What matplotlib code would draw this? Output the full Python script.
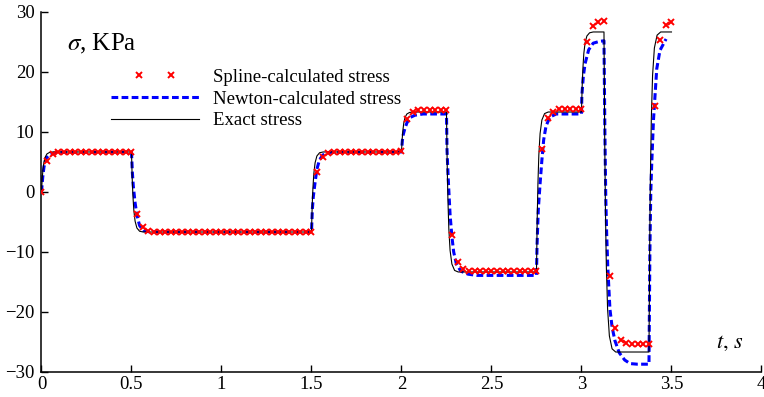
import numpy as np
import matplotlib.pyplot as plt
from matplotlib.legend_handler import HandlerLine2D

plt.rcParams['font.family'] = 'serif'
plt.rcParams['font.serif'] = ['Liberation Serif', 'DejaVu Serif']
plt.rcParams['mathtext.fontset'] = 'stix'

#  exact stress: step loading with a fast relaxation after each switch
exact_t = [0.0, 0.004, 0.008, 0.013, 0.02, 0.03, 0.045, 0.065,
           0.5, 0.504, 0.508, 0.513, 0.52, 0.53, 0.545, 0.565,
           1.5, 1.504, 1.508, 1.513, 1.52, 1.53, 1.545, 1.565,
           2.0, 2.004, 2.008, 2.013, 2.02, 2.03, 2.045, 2.065,
           2.25, 2.254, 2.258, 2.263, 2.27, 2.28, 2.295, 2.315,
           2.75, 2.754, 2.758, 2.763, 2.77, 2.78, 2.795, 2.815,
           3.0, 3.004, 3.008, 3.013, 3.02, 3.03, 3.045, 3.065,
           3.125, 3.129, 3.133, 3.138, 3.145, 3.155, 3.17, 3.19,
           3.375, 3.379, 3.383, 3.388, 3.395, 3.405, 3.42, 3.44,
           3.5]
exact_sigma = [0.0, 2.2, 3.67, 4.87, 5.77, 6.34, 6.6, 6.67,
               6.67, 2.27, -0.66, -3.06, -4.86, -6.0, -6.54, -6.67,
               -6.67, -2.27, 0.66, 3.06, 4.86, 6.0, 6.54, 6.67,
               6.67, 8.87, 10.34, 11.54, 12.44, 13.0, 13.26, 13.33,
               13.33, 4.53, -1.34, -6.14, -9.74, -12.0, -13.07, -13.33,
               -13.33, -4.53, 1.34, 6.14, 9.74, 12.0, 13.07, 13.33,
               13.33, 17.73, 20.67, 23.07, 24.87, 26.0, 26.53, 26.67,
               26.67, 9.07, -2.66, -12.26, -19.46, -24.0, -26.14, -26.67,
               -26.67, -9.07, 2.66, 12.26, 19.46, 24.0, 26.14, 26.67,
               26.67]

#  stress recovered by the Newton iterations
newton_t = [0.0, 0.007, 0.014, 0.025, 0.047, 0.085,
            0.5, 0.505, 0.51, 0.52, 0.53, 0.545, 0.565, 0.6,
            1.5, 1.505, 1.51, 1.52, 1.53, 1.545, 1.565, 1.6,
            2.0, 2.005, 2.01, 2.02, 2.03, 2.047, 2.075, 2.12,
            2.25, 2.253, 2.26, 2.27, 2.28, 2.29, 2.305, 2.33, 2.37, 2.42,
            2.75, 2.753, 2.76, 2.77, 2.78, 2.79, 2.803, 2.825, 2.86,
            3.0, 3.002, 3.01, 3.02, 3.04, 3.065, 3.1,
            3.125, 3.13, 3.135, 3.14, 3.146, 3.158, 3.17, 3.186, 3.21,
            3.24, 3.27, 3.31,
            3.375, 3.38, 3.385, 3.39, 3.4, 3.418, 3.436, 3.47]
newton_sigma = [0.0, 2.5, 4.2, 5.6, 6.3, 6.6,
                6.67, 3.2, 1.0, -1.8, -3.8, -5.6, -6.4, -6.65,
                -6.67, -2.8, -0.8, 1.6, 3.8, 5.4, 6.2, 6.6,
                6.67, 8.6, 9.6, 10.7, 11.5, 12.4, 12.8, 13.0,
                13.0, 7.0, 2.0, -3.8, -7.4, -10.0, -12.0, -13.2, -13.7, -13.9,
                -13.9, -9.0, -3.0, 1.4, 5.3, 8.7, 11.0, 12.5, 13.0,
                13.0, 16.0, 19.2, 21.4, 23.7, 24.8, 25.1,
                25.2, 10.0, -1.0, -7.0, -12.4, -19.5, -22.5, -24.8, -26.8,
                -28.0, -28.6, -28.7,
                -28.7, -10.0, 0.0, 4.5, 12.0, 20.5, 23.6, 25.5]

#  spline-based reconstruction, sampled every 1/32 s
spline_dt = 1.0 / 32
spline_sigma = [0.0, 5.2, 6.3,
                6.67, 6.67, 6.67, 6.67, 6.67, 6.67, 6.67, 6.67, 6.67, 6.67, 6.67, 6.67, 6.67,
                6.7, -3.6, -5.9, -6.5,
                -6.67, -6.67, -6.67, -6.67, -6.67, -6.67, -6.67, -6.67, -6.67, -6.67,
                -6.67, -6.67, -6.67, -6.67, -6.67, -6.67, -6.67, -6.67, -6.67, -6.67,
                -6.67, -6.67, -6.67, -6.67, -6.67, -6.67, -6.67, -6.67,
                -6.6, 3.4, 5.9, 6.5,
                6.67, 6.67, 6.67, 6.67, 6.67, 6.67, 6.67, 6.67, 6.67, 6.67, 6.67, 6.67,
                6.8, 12.1, 13.3,
                13.7, 13.7, 13.7, 13.7, 13.7, 13.7,
                -7.1, -11.6, -12.8,
                -13.1, -13.1, -13.1, -13.1, -13.1, -13.1, -13.1, -13.1, -13.1, -13.1,
                -13.1, -13.1, -13.1,
                7.1, 12.3, 13.4,
                13.8, 13.8, 13.8, 13.8, 13.8,
                25.0, 27.6, 28.3, 28.5,
                -14.0, -22.6, -24.6, -25.1,
                -25.3, -25.3, -25.3, -25.3,
                14.3, 25.3, 27.8, 28.4]
spline_t = np.arange(len(spline_sigma)) * spline_dt

x_ticks = [0, 0.5, 1, 1.5, 2, 2.5, 3, 3.5, 4]
x_tick_labels = ['0', '0.5', '1', '1.5', '2', '2.5', '3', '3.5', '4']
y_ticks = [-30, -20, -10, 0, 10, 20, 30]

fig = plt.figure(figsize=(7.64, 3.97), dpi=100)
ax = fig.add_axes([0.0543, 0.063, 0.9424, 0.9068])

newton_line, = ax.plot(newton_t, newton_sigma, color='#0000ff', linewidth=2.2,
                       dashes=(2.2, 1.1), label='Newton-calculated stress', zorder=2)
exact_line, = ax.plot(exact_t, exact_sigma, color='black', linewidth=0.8,
                      label='Exact stress', zorder=3)
spline_line, = ax.plot(spline_t, spline_sigma, linestyle='none', marker='x',
                       markersize=3.8, markeredgewidth=1.4, color='#ff0000',
                       label='Spline-calculated stress', zorder=4)

ax.set_xlim(0, 4)
ax.set_ylim(-30, 30)
ax.set_xticks(x_ticks)
ax.set_xticklabels(x_tick_labels)
ax.set_yticks(y_ticks)
ax.tick_params(direction='in', length=5, width=1, labelsize=13.5, pad=5)
ax.tick_params(axis='x', pad=3)
for side in ['top', 'right']:
    ax.spines[side].set_visible(False)
for side in ['left', 'bottom']:
    ax.spines[side].set_linewidth(1.1)

ax.text(0.035, 0.91, r'$\sigma$, KPa', transform=ax.transAxes,
        fontsize=18, ha='left', va='center')
ax.text(0.956, 0.078, r'$t,\, s$', transform=ax.transAxes,
        fontsize=16, ha='center', va='center')

ax.legend(handles=[spline_line, newton_line, exact_line],
          handler_map={spline_line: HandlerLine2D(marker_pad=1.5, numpoints=2)},
          loc='upper left', bbox_to_anchor=(0.0965, 0.842), frameon=False,
          fontsize=13.5, handlelength=4.7, handletextpad=0.75,
          borderpad=0, borderaxespad=0, labelspacing=0.24)

fig.savefig('out.png', dpi=100)
